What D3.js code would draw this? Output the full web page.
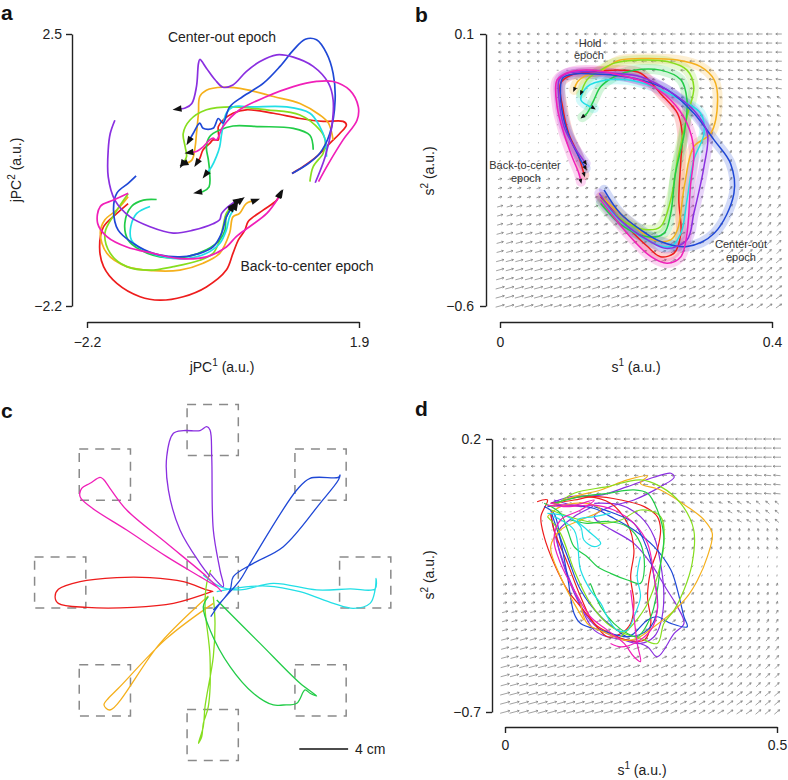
<!DOCTYPE html>
<html><head><meta charset="utf-8">
<script src="https://cdn.jsdelivr.net/npm/d3@7"></script>
<style>body{margin:0;background:#fff;}</style>
</head><body><svg id="fig" width="788" height="780"></svg>
<script>
// ---------------- DATA ----------------
const conditionNames = ["red","orange","lime","green","cyan","blue","purple","magenta"];
const palette = ["#ee1c1c","#f5b01c","#86de1e","#22cc48","#22dfe6","#1f48d6","#8a2fe0","#f01fb8"];

// Panel a: jPC projections (a.u.)
const aXTicks = [-2.2, 1.9], aXLabels = ["\u22122.2","1.9"];
const aYTicks = [-2.2, 2.5], aYLabels = ["\u22122.2","2.5"];
const aCenterOut = [
 [[0.89,0.09],[1.06,0.21],[1.26,0.38],[1.46,0.61],[1.61,0.78],[1.71,0.93],[1.66,0.99],[1.36,0.99],[1.01,1.04],[0.61,1.13],[0.20,1.19],[0.00,1.13],[-0.15,1.01],[-0.22,0.90],[-0.22,0.67],[-0.30,0.67],[-0.35,0.61],[-0.45,0.50],[-0.50,0.35],[-0.55,0.26]],
 [[1.51,0.67],[1.44,0.96],[1.31,1.10],[1.01,1.30],[0.61,1.42],[0.20,1.54],[-0.15,1.58],[-0.40,1.53],[-0.50,1.42],[-0.52,1.13],[-0.55,0.78],[-0.57,0.55],[-0.62,0.32],[-0.75,0.25]],
 [[1.16,-0.05],[1.21,0.21],[1.36,0.44],[1.39,0.67],[1.31,0.84],[1.01,1.10],[0.51,1.19],[0.00,1.24],[-0.40,1.19],[-0.65,1.01],[-0.75,0.78],[-0.72,0.55],[-0.70,0.38],[-0.77,0.24]],
 [[1.21,0.50],[1.16,0.75],[0.91,0.87],[0.40,0.90],[0.00,0.91],[-0.20,0.84],[-0.35,0.73],[-0.40,0.55],[-0.37,0.32],[-0.35,0.09],[-0.36,-0.14],[-0.45,-0.22],[-0.54,-0.24]],
 [[1.41,0.38],[1.39,0.67],[1.31,0.90],[1.16,1.13],[0.81,1.24],[0.30,1.24],[0.00,1.24],[-0.10,1.13],[-0.17,0.78],[-0.20,0.55],[-0.25,0.38],[-0.32,0.21],[-0.42,0.06]],
 [[0.89,0.09],[1.11,0.24],[1.31,0.44],[1.46,0.78],[1.54,1.36],[1.51,1.82],[1.41,2.17],[1.26,2.40],[1.09,2.41],[0.91,2.22],[0.71,1.94],[0.46,1.65],[0.15,1.42],[-0.05,1.24],[-0.15,0.96],[-0.22,1.04],[-0.30,0.87],[-0.45,0.87],[-0.50,0.96],[-0.60,0.78],[-0.67,0.64]],
 [[1.24,-0.07],[1.39,0.38],[1.49,0.90],[1.51,1.36],[1.44,1.65],[1.21,1.94],[0.91,2.10],[0.66,2.14],[0.40,2.02],[0.20,1.85],[0.00,1.62],[-0.15,1.58],[-0.27,1.71],[-0.40,1.91],[-0.50,2.06],[-0.52,1.99],[-0.55,1.59],[-0.62,1.30],[-0.72,1.22],[-0.85,1.20]],
 [[1.29,-0.05],[1.44,0.26],[1.66,0.67],[1.87,1.01],[1.89,1.24],[1.76,1.53],[1.51,1.68],[1.26,1.68],[0.91,1.59],[0.51,1.42],[0.10,1.19],[-0.15,0.90],[-0.25,0.67],[-0.30,0.70],[-0.35,0.67],[-0.45,0.55],[-0.55,0.47],[-0.67,0.45]]
];
const aBackToCenter = [
 [[-1.58,-0.43],[-1.75,-0.60],[-1.95,-0.83],[-2.01,-1.18],[-1.95,-1.52],[-1.75,-1.81],[-1.40,-2.04],[-1.10,-2.10],[-0.75,-2.04],[-0.40,-1.87],[-0.10,-1.58],[0.00,-1.29],[0.08,-1.06],[0.18,-0.89],[0.23,-0.74],[0.46,-0.54],[0.66,-0.37],[0.71,-0.25]],
 [[-1.58,-0.31],[-1.75,-0.54],[-1.93,-0.71],[-2.00,-0.94],[-1.90,-1.29],[-1.60,-1.52],[-1.20,-1.59],[-0.80,-1.58],[-0.45,-1.46],[-0.20,-1.29],[-0.05,-0.94],[0.00,-0.66],[0.10,-0.60],[0.20,-0.43],[0.35,-0.37]],
 [[-1.58,-0.26],[-1.78,-0.60],[-1.93,-0.94],[-1.85,-1.29],[-1.60,-1.52],[-1.25,-1.58],[-0.90,-1.52],[-0.50,-1.41],[-0.30,-1.29],[-0.20,-1.06],[-0.15,-0.83],[-0.10,-0.60],[0.00,-0.46]],
 [[-1.15,-0.36],[-1.35,-0.37],[-1.53,-0.48],[-1.63,-0.77],[-1.58,-1.06],[-1.40,-1.23],[-1.10,-1.35],[-0.70,-1.35],[-0.40,-1.23],[-0.20,-1.06],[-0.12,-0.89],[-0.10,-0.66],[0.00,-0.48]],
 [[-1.25,-0.48],[-1.45,-0.60],[-1.54,-0.83],[-1.53,-1.06],[-1.35,-1.23],[-1.05,-1.35],[-0.70,-1.38],[-0.40,-1.29],[-0.20,-1.12],[-0.10,-0.89],[-0.05,-0.66],[0.05,-0.46]],
 [[-1.46,0.05],[-1.58,-0.08],[-1.75,-0.25],[-1.80,-0.54],[-1.73,-0.89],[-1.50,-1.12],[-1.20,-1.29],[-0.80,-1.35],[-0.50,-1.29],[-0.30,-1.18],[-0.17,-0.94],[-0.10,-0.66],[0.00,-0.48],[0.13,-0.36]],
 [[-1.78,1.01],[-1.85,0.78],[-1.88,0.50],[-1.88,0.03],[-1.78,-0.37],[-1.55,-0.66],[-1.25,-0.83],[-0.90,-0.94],[-0.60,-0.89],[-0.30,-0.78],[-0.20,-0.71],[-0.17,-0.60],[-0.05,-0.46],[0.08,-0.37]],
 [[-1.58,-0.25],[-1.80,-0.37],[-2.00,-0.48],[-2.04,-0.77],[-1.90,-1.00],[-1.60,-1.18],[-1.20,-1.29],[-0.80,-1.38],[-0.40,-1.35],[-0.10,-1.18],[0.05,-1.00],[0.25,-0.83],[0.51,-0.60],[0.68,-0.34],[0.73,-0.24]]
];

// Panel b: SLDS latent states
const bXTicks = [0, 0.4], bXLabels = ["0","0.4"];
const bYTicks = [-0.6, 0.1], bYLabels = ["\u22120.6","0.1"];
const bTraj = [
 [[0.148,-0.319],[0.187,-0.396],[0.217,-0.447],[0.236,-0.473],[0.256,-0.464],[0.266,-0.413],[0.263,-0.327],[0.266,-0.224],[0.268,-0.156],[0.261,-0.104],[0.236,-0.053],[0.207,-0.001],[0.177,0.007],[0.138,0.003],[0.104,-0.006],[0.089,-0.027],[0.092,-0.087],[0.101,-0.156],[0.114,-0.207],[0.124,-0.263]],
 [[0.150,-0.319],[0.187,-0.379],[0.226,-0.430],[0.251,-0.430],[0.261,-0.404],[0.271,-0.293],[0.285,-0.190],[0.310,-0.156],[0.320,-0.070],[0.315,-0.018],[0.295,0.016],[0.261,0.033],[0.217,0.037],[0.177,0.033],[0.158,0.016],[0.148,0.003],[0.128,-0.006],[0.114,-0.023],[0.109,-0.044]],
 [[0.150,-0.327],[0.187,-0.387],[0.217,-0.404],[0.236,-0.396],[0.251,-0.327],[0.261,-0.224],[0.275,-0.113],[0.285,-0.036],[0.275,0.007],[0.246,0.029],[0.207,0.033],[0.168,0.025],[0.148,0.007],[0.128,-0.018],[0.119,-0.053]],
 [[0.148,-0.336],[0.182,-0.396],[0.217,-0.422],[0.241,-0.413],[0.251,-0.362],[0.258,-0.259],[0.271,-0.156],[0.275,-0.070],[0.266,-0.018],[0.236,0.007],[0.197,0.007],[0.168,-0.010],[0.148,-0.036],[0.138,-0.070],[0.128,-0.104],[0.121,-0.114]],
 [[0.148,-0.327],[0.187,-0.396],[0.226,-0.439],[0.251,-0.447],[0.266,-0.413],[0.275,-0.327],[0.285,-0.224],[0.300,-0.156],[0.295,-0.104],[0.266,-0.070],[0.226,-0.036],[0.187,-0.018],[0.158,-0.018],[0.128,-0.036],[0.119,-0.070],[0.138,-0.091]],
 [[0.153,-0.301],[0.177,-0.362],[0.207,-0.404],[0.236,-0.434],[0.275,-0.447],[0.315,-0.413],[0.344,-0.310],[0.339,-0.233],[0.315,-0.173],[0.285,-0.104],[0.246,-0.044],[0.207,-0.018],[0.168,-0.006],[0.138,-0.003],[0.109,-0.003],[0.092,-0.014],[0.089,-0.061],[0.094,-0.121],[0.104,-0.173],[0.116,-0.216],[0.126,-0.246]],
 [[0.146,-0.310],[0.177,-0.379],[0.217,-0.430],[0.246,-0.452],[0.275,-0.430],[0.285,-0.362],[0.300,-0.241],[0.305,-0.156],[0.285,-0.096],[0.246,-0.044],[0.207,-0.010],[0.168,-0.001],[0.128,0.003],[0.099,-0.001],[0.087,-0.018],[0.087,-0.070],[0.094,-0.138],[0.109,-0.190],[0.126,-0.233]],
 [[0.148,-0.327],[0.187,-0.413],[0.222,-0.473],[0.246,-0.490],[0.266,-0.473],[0.275,-0.413],[0.280,-0.293],[0.285,-0.199],[0.275,-0.130],[0.251,-0.070],[0.217,-0.027],[0.177,-0.006],[0.138,0.007],[0.104,0.003],[0.084,-0.018],[0.084,-0.087],[0.094,-0.156],[0.106,-0.216],[0.116,-0.259],[0.119,-0.280]]
];
// flow field (coarse 10x10 read-off: direction in degrees, speed in a.u.), rows top->bottom
const bFieldX = [0, 0.41], bFieldY = [0.1, -0.6];
const bFieldAngle = [
 [180,180,180,180,180,180,180,180,180,180],
 [180,180,180,180,180,180,178,176,174,172],
 [180,180,180,180,178,175,170,165,160,155],
 [20,20,25,30,35,40,45,50,60,70],
 [15,18,20,25,30,35,45,55,65,70],
 [15,15,18,20,25,30,35,45,55,60],
 [15,15,17,20,22,25,30,38,45,50],
 [15,15,16,18,20,22,27,33,40,45],
 [15,15,15,17,18,20,25,30,35,40],
 [15,15,15,16,17,18,22,27,32,35]];
const bFieldSpeed = [
 [3,3,3,4,4,5,5,6,6,6],
 [1,1,2,2,3,3,4,5,5,6],
 [1,1,1,1,2,2,3,3,4,4],
 [1,1,1,1,2,2,2,3,3,3],
 [2,2,2,2,2,2,2,3,3,3],
 [4,4,3,3,3,3,3,3,4,4],
 [6,5,5,4,4,4,4,4,5,5],
 [7,7,6,6,5,5,5,5,6,6],
 [8,8,7,7,7,6,6,6,7,7],
 [9,9,8,8,8,7,7,7,7,7]];

// Panel c: hand paths (cm), target centres
const targetX = [0, 12.5, 8.84, 0, -8.84, -12.5, -8.84, 0, 8.84];
const targetY = [0, 0, 8.84, 12.5, 8.84, 0, -8.84, -12.5, -8.84];
const targetSize = 4.2;
const scaleBarStart = 7.1, scaleBarLen = 4, scaleBarY = -13.65, scaleBarLabel = "4 cm";
const cTraj = [
 [[-0.08,-0.75],[-3.22,-1.71],[-6.5,-2.04],[-10.33,-2.04],[-12.65,-1.71],[-12.92,-1.16],[-12.65,-0.56],[-10.87,0.07],[-7.87,0.40],[-5.14,0.40],[-2.4,0.07],[-0.49,-0.61],[0.05,-0.75]],
 [[-0.36,-1.11],[-4.32,-4.99],[-8.42,-10.45],[-8.91,-10.04],[-8.55,-9.49],[-7.73,-8.67],[-3.77,-4.58],[0.05,-1.71]],
 [[-0.16,1.02],[-0.49,-0.07],[-0.63,-1.98],[-0.22,-6.08],[-0.36,-10.18],[-0.77,-11.54],[-0.9,-12.64],[-1.17,-13.18],[-0.77,-11.81],[-0.63,-10.18],[0.05,-6.08],[0.19,-3.35],[0.05,-1.16]],
 [[0.33,-1.43],[3.88,-4.99],[7.16,-8.26],[8.52,-9.30],[7.98,-9.08],[7.57,-8.81],[6.89,-9.9],[5.79,-10.04],[4.97,-10.04],[3.33,-9.08],[1.42,-6.90],[-0.22,-3.89],[-0.77,-1.98],[-0.36,-1.16]],
 [[-0.77,0.61],[0.6,-0.34],[2.24,-0.61],[4.97,-0.07],[8.52,-0.61],[11.26,-0.53],[13.31,-0.53],[13.39,0.34],[13.31,-0.61],[12.9,-1.71],[11.53,-2.12],[9.89,-1.71],[7.16,-0.75],[4.43,-0.29],[1.69,-0.48],[0.33,-0.75]],
 [[-0.16,-2.8],[0.6,-1.71],[2.24,0.2],[3.06,1.57],[6.89,7.58],[7.98,8.54],[10.3,8.62],[10.44,8.81],[10.3,8.4],[8.8,6.49],[5.79,2.94],[3.33,1.57],[1.69,0.48],[1.42,-0.61],[0.05,-2.25]],
 [[-0.22,0.75],[0.87,-0.34],[0.6,1.02],[0.05,4.30],[-0.08,10.31],[-0.22,12.5],[-0.49,12.77],[-1.04,12.45],[-2.4,12.45],[-3.22,12.23],[-3.77,10.31],[-3.63,7.58],[-2.68,4.30],[-1.04,1.57],[-0.22,0.48]],
 [[0.74,-0.75],[-0.49,0.48],[-3.77,3.21],[-7.05,5.94],[-8.42,7.72],[-8.96,8.46],[-9.23,8.62],[-10.05,8.13],[-10.74,7.72],[-10.87,7.04],[-10.05,6.22],[-7.05,4.30],[-3.77,2.12],[-1.04,0.48],[0.33,-0.34]]
];

// Panel d: single-trial latent states
const dXTicks = [0, 0.5], dXLabels = ["0","0.5"];
const dYTicks = [-0.7, 0.2], dYLabels = ["\u22120.7","0.2"];
const dColorIdx = [6,6,0,0,5,5,1,1,2,2,3,3,4,4,7,7];
const dTraj = [
 [[0.084,-0.012],[0.121,0.010],[0.176,0.015],[0.225,0.043],[0.274,0.074],[0.305,0.087],[0.311,0.074],[0.286,0.043],[0.237,-0.001],[0.194,-0.023],[0.164,-0.056],[0.237,-0.144],[0.268,-0.210],[0.298,-0.298],[0.317,-0.353],[0.329,-0.408],[0.311,-0.441],[0.280,-0.518],[0.262,-0.485],[0.225,-0.463],[0.188,-0.452],[0.164,-0.430],[0.139,-0.353],[0.115,-0.254],[0.096,-0.144],[0.084,-0.045]],
 [[0.090,-0.001],[0.139,-0.023],[0.164,-0.018],[0.127,-0.056],[0.096,-0.111],[0.108,-0.210],[0.127,-0.298],[0.151,-0.386],[0.176,-0.430],[0.219,-0.463],[0.249,-0.474],[0.274,-0.452],[0.286,-0.408],[0.292,-0.320],[0.286,-0.210],[0.274,-0.122],[0.249,-0.056],[0.213,-0.018],[0.164,-0.012]],
 [[0.059,-0.007],[0.078,-0.001],[0.066,-0.056],[0.072,-0.122],[0.090,-0.210],[0.115,-0.298],[0.139,-0.353],[0.164,-0.408],[0.188,-0.452],[0.213,-0.441],[0.231,-0.408],[0.237,-0.342],[0.231,-0.254],[0.237,-0.166],[0.225,-0.078],[0.194,-0.012],[0.151,0.010],[0.108,-0.001]],
 [[0.084,-0.012],[0.127,-0.001],[0.164,0.010],[0.213,-0.001],[0.256,-0.023],[0.280,-0.056],[0.286,-0.100],[0.280,-0.166],[0.268,-0.232],[0.262,-0.320],[0.268,-0.408],[0.256,-0.463],[0.225,-0.463],[0.194,-0.441],[0.164,-0.408],[0.139,-0.320],[0.115,-0.210],[0.090,-0.100],[0.084,-0.045]],
 [[0.078,-0.023],[0.115,-0.018],[0.164,-0.029],[0.194,-0.056],[0.237,-0.100],[0.274,-0.155],[0.305,-0.232],[0.317,-0.298],[0.329,-0.386],[0.335,-0.419],[0.305,-0.408],[0.280,-0.386],[0.262,-0.397],[0.237,-0.441],[0.225,-0.452],[0.206,-0.430],[0.176,-0.386],[0.139,-0.298],[0.115,-0.188],[0.096,-0.100],[0.084,-0.034]],
 [[0.072,-0.023],[0.090,-0.045],[0.102,-0.133],[0.115,-0.254],[0.127,-0.375],[0.139,-0.408],[0.176,-0.430],[0.225,-0.452],[0.262,-0.430],[0.280,-0.364],[0.274,-0.254],[0.262,-0.166],[0.237,-0.078],[0.200,-0.045],[0.164,-0.023]],
 [[0.084,-0.023],[0.127,0.010],[0.176,0.032],[0.225,0.065],[0.262,0.078],[0.249,0.054],[0.286,0.032],[0.335,-0.023],[0.366,-0.067],[0.381,-0.111],[0.372,-0.188],[0.354,-0.265],[0.335,-0.320],[0.305,-0.375],[0.274,-0.419],[0.243,-0.457],[0.219,-0.463],[0.188,-0.441],[0.151,-0.408],[0.139,-0.342]],
 [[0.078,-0.056],[0.102,-0.023],[0.151,-0.012],[0.176,-0.034],[0.139,-0.067],[0.102,-0.100],[0.084,-0.155],[0.102,-0.254],[0.127,-0.342],[0.145,-0.397]],
 [[0.090,-0.023],[0.127,0.021],[0.188,0.043],[0.249,0.065],[0.286,0.043],[0.323,-0.012],[0.347,-0.100],[0.344,-0.210],[0.329,-0.298],[0.311,-0.364],[0.292,-0.408],[0.280,-0.474],[0.249,-0.457],[0.219,-0.441],[0.188,-0.408],[0.157,-0.342],[0.127,-0.232],[0.102,-0.111],[0.078,-0.056]],
 [[0.084,-0.034],[0.139,-0.067],[0.182,-0.078],[0.213,-0.067],[0.249,-0.034],[0.286,-0.056],[0.292,-0.144],[0.280,-0.254],[0.262,-0.342],[0.237,-0.408],[0.213,-0.452]],
 [[0.090,-0.012],[0.139,0.010],[0.188,0.021],[0.237,0.032],[0.262,0.021],[0.280,-0.034],[0.292,-0.122],[0.286,-0.210],[0.280,-0.298],[0.268,-0.386],[0.243,-0.452],[0.225,-0.441],[0.200,-0.408],[0.176,-0.353],[0.157,-0.276]],
 [[0.072,-0.012],[0.102,-0.045],[0.115,-0.100],[0.127,-0.155],[0.151,-0.188],[0.170,-0.221],[0.194,-0.243],[0.225,-0.265],[0.249,-0.276],[0.256,-0.232],[0.249,-0.144],[0.225,-0.089],[0.188,-0.072],[0.151,-0.078],[0.121,-0.067]],
 [[0.078,-0.045],[0.115,-0.056],[0.139,-0.089],[0.145,-0.133],[0.164,-0.155],[0.176,-0.144],[0.151,-0.100],[0.133,-0.067],[0.164,-0.056],[0.194,-0.045]],
 [[0.090,-0.056],[0.127,-0.100],[0.139,-0.232],[0.157,-0.298],[0.176,-0.342],[0.188,-0.386],[0.206,-0.430],[0.225,-0.430],[0.237,-0.386],[0.249,-0.320],[0.243,-0.254],[0.249,-0.188]],
 [[0.084,-0.012],[0.127,-0.018],[0.164,-0.001],[0.139,-0.034],[0.102,-0.067],[0.090,-0.133],[0.102,-0.210],[0.127,-0.298],[0.157,-0.386],[0.188,-0.430],[0.219,-0.474],[0.237,-0.518],[0.249,-0.534],[0.243,-0.474],[0.237,-0.386],[0.231,-0.298]],
 [[0.078,-0.018],[0.115,-0.023],[0.164,-0.018],[0.200,-0.034],[0.237,-0.078],[0.262,-0.144],[0.274,-0.254],[0.280,-0.364],[0.268,-0.430],[0.237,-0.474],[0.213,-0.485],[0.194,-0.474]]
];
const dFieldX = [0, 0.5], dFieldY = [0.2, -0.7];
const dFieldAngle = [
 [180,180,180,180,180,180,180,180,180,180],
 [180,180,180,180,180,180,179,178,177,175],
 [180,180,180,180,175,170,165,160,150,140],
 [190,190,10,20,30,45,60,75,90,100],
 [15,15,18,22,30,40,55,65,75,80],
 [15,15,17,20,25,35,45,55,65,70],
 [15,15,16,18,22,28,35,45,55,60],
 [15,15,15,17,20,25,30,38,45,50],
 [15,15,15,16,18,22,27,33,40,45],
 [15,15,15,15,17,20,25,30,35,40]];
const dFieldSpeed = [
 [4,4,5,5,6,6,7,7,8,8],
 [2,3,3,4,4,5,5,6,6,7],
 [1,1,2,2,3,3,4,4,5,5],
 [1,1,1,2,2,2,3,3,3,3],
 [2,2,2,2,2,2,2,2,2,2],
 [4,4,3,3,3,3,3,3,3,3],
 [6,6,5,5,4,4,4,4,4,4],
 [8,7,7,6,6,5,5,5,5,5],
 [9,9,8,8,7,7,6,6,6,6],
 [10,10,9,9,8,8,7,7,7,7]];

// ---------------- DRAWING ----------------
const FONT = "'Liberation Sans', Arial, Helvetica, sans-serif";
const svg = d3.select("#fig").attr("font-family", FONT);
const speedPx = d3.scaleLinear().domain([0, 10]).range([0, 10]);

function letter(t, x, y) {
  svg.append("text").attr("x", x).attr("y", y).attr("font-size", 21)
    .attr("font-weight", "bold").attr("fill", "#111").text(t);
}
function styleAxis(g) {
  g.attr("font-family", FONT).attr("font-size", 14);
  g.selectAll("text").attr("fill", "#222");
  g.selectAll("path,line").attr("stroke", "#222").attr("stroke-width", 1.4);
}
function axes(xs, ys, xAt, yAt, xt, xl, yt, yl, xpad, ypad) {
  const gx = svg.append("g").attr("transform", `translate(0,${yAt})`)
    .call(d3.axisBottom(xs).tickValues(xt).tickFormat((d, i) => xl[i]).tickSize(6).tickSizeOuter(0).tickPadding(xpad));
  styleAxis(gx);
  const gy = svg.append("g").attr("transform", `translate(${xAt},0)`)
    .call(d3.axisLeft(ys).tickValues(yt).tickFormat((d, i) => yl[i]).tickSize(6).tickSizeOuter(0).tickPadding(ypad));
  styleAxis(gy);
}
function supTitle(x, y, pre, sup, post, rotate) {
  const t = svg.append("text").attr("font-size", 14).attr("fill", "#222").attr("text-anchor", "middle");
  if (rotate) t.attr("transform", `translate(${x},${y}) rotate(-90)`);
  else t.attr("x", x).attr("y", y);
  t.append("tspan").text(pre);
  t.append("tspan").attr("font-size", 10).attr("dy", -6).text(sup);
  t.append("tspan").attr("dy", 6).text(post);
}
function arrowHead(g, p1, p2, size, width, color) {
  const ang = Math.atan2(p2[1] - p1[1], p2[0] - p1[0]);
  const tx = p2[0] + size * 0.45 * Math.cos(ang), ty = p2[1] + size * 0.45 * Math.sin(ang);
  const bx = tx - size * Math.cos(ang), by = ty - size * Math.sin(ang);
  const nx = -Math.sin(ang) * width / 2, ny = Math.cos(ang) * width / 2;
  g.append("path").attr("d", `M${tx},${ty}L${bx + nx},${by + ny}L${bx - nx},${by - ny}Z`).attr("fill", color);
}
function field(xs, ys, fx, fy, angles, speeds, nCols, nRows) {
  const g = svg.append("g").attr("stroke", "#7a7a7a").attr("stroke-width", 0.7).attr("fill", "none");
  const colPos = d3.range(nCols).map(i => fx[0] + (fx[1] - fx[0]) * i / (nCols - 1));
  const rowPos = d3.range(nRows).map(j => fy[0] + (fy[1] - fy[0]) * j / (nRows - 1));
  rowPos.forEach((yv, j) => {
    const rj = Math.min(9, Math.floor(j * 10 / nRows));
    colPos.forEach((xv, i) => {
      const ci = Math.min(9, Math.floor(i * 10 / nCols));
      const a = angles[rj][ci] * Math.PI / 180, L = Math.max(1, speedPx(speeds[rj][ci]));
      const cx = xs(xv), cy = ys(yv);
      const dx = L * Math.cos(a), dy = -L * Math.sin(a);
      const x0 = cx - dx / 2, y0 = cy - dy / 2, x1 = cx + dx / 2, y1 = cy + dy / 2;
      let d = `M${x0.toFixed(2)},${y0.toFixed(2)}L${x1.toFixed(2)},${y1.toFixed(2)}`;
      if (L > 2.5) {
        const h = 2.2, ang = Math.atan2(dy, dx);
        d += `M${(x1 - h * Math.cos(ang - 0.5)).toFixed(2)},${(y1 - h * Math.sin(ang - 0.5)).toFixed(2)}L${x1.toFixed(2)},${y1.toFixed(2)}L${(x1 - h * Math.cos(ang + 0.5)).toFixed(2)},${(y1 - h * Math.sin(ang + 0.5)).toFixed(2)}`;
      }
      g.append("path").attr("d", d);
    });
  });
}

// ---- Panel a ----
letter("a", 1, 20);
{
  const xs = d3.scaleLinear().domain(aXTicks).range([87, 359]);
  const ys = d3.scaleLinear().domain(aYTicks).range([306, 34]);
  axes(xs, ys, 72, 322, aXTicks, aXLabels, aYTicks, aYLabels, 9, 4);
  supTitle(222, 372, "jPC", "1", " (a.u.)", false);
  supTitle(21, 170, "jPC", "2", " (a.u.)", true);
  const line = d3.line().x(d => xs(d[0])).y(d => ys(d[1])).curve(d3.curveCatmullRom.alpha(0.5));
  const g = svg.append("g");
  [aBackToCenter, aCenterOut].forEach(set => set.forEach((pts, k) => {
    g.append("path").attr("d", line(pts)).attr("fill", "none").attr("stroke", palette[k]).attr("stroke-width", 1.7);
  }));
  [aBackToCenter, aCenterOut].forEach(set => set.forEach(pts => {
    const n = pts.length;
    arrowHead(g, [xs(pts[n - 2][0]), ys(pts[n - 2][1])], [xs(pts[n - 1][0]), ys(pts[n - 1][1])], 9, 6.5, "#111");
  }));
  svg.append("text").attr("x", 222).attr("y", 42).attr("text-anchor", "middle").attr("font-size", 14).attr("fill", "#222").text("Center-out epoch");
  svg.append("text").attr("x", 307).attr("y", 271).attr("text-anchor", "middle").attr("font-size", 14).attr("fill", "#222").text("Back-to-center epoch");
}

// ---- Panel b ----
letter("b", 415, 22);
{
  const xs = d3.scaleLinear().domain(bXTicks).range([500, 772]);
  const ys = d3.scaleLinear().domain(bYTicks).range([306, 34]);
  field(xs, ys, bFieldX, bFieldY, bFieldAngle, bFieldSpeed, 30, 31);
  axes(xs, ys, 486, 322, bXTicks, bXLabels, bYTicks, bYLabels, 9, 6);
  supTitle(636, 372, "s", "1", " (a.u.)", false);
  supTitle(434, 171, "s", "2", " (a.u.)", true);
  const line = d3.line().x(d => xs(d[0])).y(d => ys(d[1])).curve(d3.curveCatmullRom.alpha(0.5));
  const g = svg.append("g");
  bTraj.forEach((pts, k) => {
    g.append("path").attr("d", line(pts)).attr("fill", "none").attr("stroke", palette[k])
      .attr("stroke-width", 10).attr("stroke-opacity", 0.2).attr("stroke-linecap", "round").attr("stroke-linejoin", "round");
  });
  bTraj.forEach((pts, k) => {
    g.append("path").attr("d", line(pts)).attr("fill", "none").attr("stroke", palette[k]).attr("stroke-width", 1.5);
  });
  bTraj.forEach(pts => {
    const n = pts.length;
    arrowHead(g, [xs(pts[n - 2][0]), ys(pts[n - 2][1])], [xs(pts[n - 1][0]), ys(pts[n - 1][1])], 5, 4, "#111");
  });
  const lab = (t, x, y) => svg.append("text").attr("x", x).attr("y", y).attr("text-anchor", "middle").attr("font-size", 11).attr("fill", "#333").text(t);
  lab("Hold", 590, 47); lab("epoch", 589, 59);
  lab("Back-to-center", 525, 169); lab("epoch", 526, 182);
  lab("Center-out", 741, 248); lab("epoch", 741, 261);
}

// ---- Panel c ----
letter("c", 1, 418);
{
  const xs = d3.scaleLinear().domain([-15, 15]).range([212.7 - 183, 212.7 + 183]);
  const ys = d3.scaleLinear().domain([-15, 15]).range([582.5 + 183, 582.5 - 183]);
  const half = targetSize / 2;
  const gT = svg.append("g");
  targetX.forEach((tx, i) => {
    gT.append("rect").attr("x", xs(tx - half)).attr("y", ys(targetY[i] + half))
      .attr("width", xs(tx + half) - xs(tx - half)).attr("height", ys(targetY[i] - half) - ys(targetY[i] + half))
      .attr("fill", "none").attr("stroke", "#8a8a8a").attr("stroke-width", 1.5).attr("stroke-dasharray", "9,7");
  });
  const line = d3.line().x(d => xs(d[0])).y(d => ys(d[1])).curve(d3.curveCatmullRom.alpha(0.5));
  cTraj.forEach((pts, k) => {
    svg.append("path").attr("d", line(pts)).attr("fill", "none").attr("stroke", palette[k]).attr("stroke-width", 1.3);
  });
  svg.append("line").attr("x1", xs(scaleBarStart)).attr("x2", xs(scaleBarStart + scaleBarLen))
    .attr("y1", ys(scaleBarY)).attr("y2", ys(scaleBarY)).attr("stroke", "#111").attr("stroke-width", 1.6);
  svg.append("text").attr("x", xs(scaleBarStart + scaleBarLen) + 7).attr("y", ys(scaleBarY) + 5)
    .attr("font-size", 14).attr("fill", "#222").text(scaleBarLabel);
}

// ---- Panel d ----
letter("d", 415, 416);
{
  const xs = d3.scaleLinear().domain(dXTicks).range([505, 777]);
  const ys = d3.scaleLinear().domain(dYTicks).range([712, 439]);
  field(xs, ys, dFieldX, dFieldY, dFieldAngle, dFieldSpeed, 30, 31);
  axes(xs, ys, 492, 727, dXTicks, dXLabels, dYTicks, dYLabels, 7, 5);
  supTitle(642, 775, "s", "1", " (a.u.)", false);
  supTitle(434, 575, "s", "2", " (a.u.)", true);
  const line = d3.line().x(d => xs(d[0])).y(d => ys(d[1])).curve(d3.curveCatmullRom.alpha(0.5));
  dTraj.forEach((pts, k) => {
    svg.append("path").attr("d", line(pts)).attr("fill", "none").attr("stroke", palette[dColorIdx[k]]).attr("stroke-width", 1.2);
  });
}
</script>
</body></html>
